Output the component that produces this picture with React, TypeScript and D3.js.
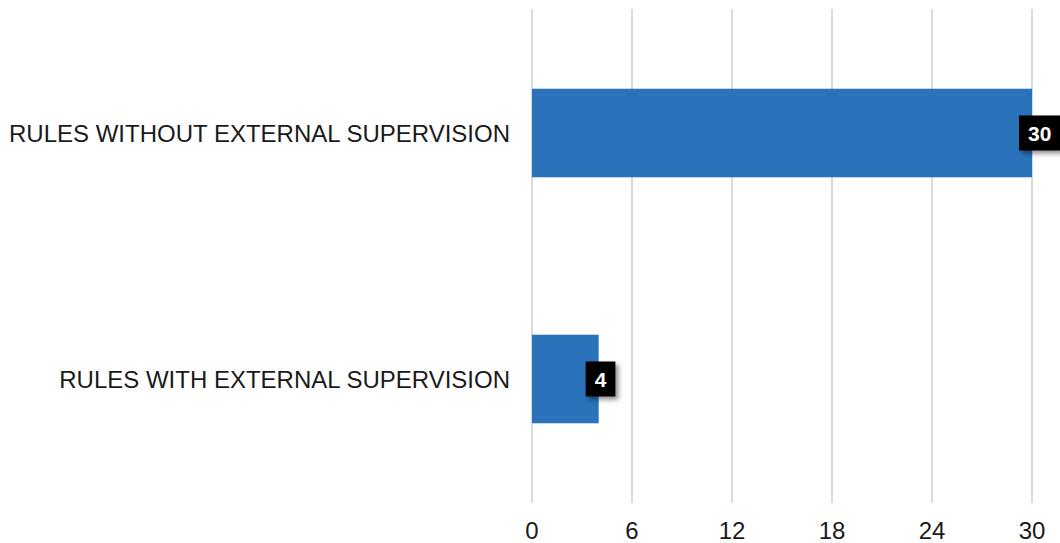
import React from "react";
import * as d3 from "d3";

const categories = ["RULES WITHOUT EXTERNAL SUPERVISION", "RULES WITH EXTERNAL SUPERVISION"];
const values = [30, 4];
const tickValues = [0, 6, 12, 18, 24, 30];

const W = 1060;
const H = 543;
const FONT = "'Liberation Sans', Arial, sans-serif";

export default function App() {
  const x = d3.scaleLinear().domain([0, 30]).range([532, 1032]);
  const y = d3.scaleBand<string>().domain(categories).range([10, 502]).padding(0);
  const barH = y.bandwidth() * 0.36;
  const gridTop = 9;
  const gridBottom = 503;

  return (
    <svg
      width={W}
      height={H}
      style={{ position: "absolute", left: 0, top: 0, background: "#fff" }}
      fontFamily={FONT}
    >
      <defs>
        <filter id="lblShadow" x="-30%" y="-30%" width="180%" height="180%">
          <feDropShadow dx="3" dy="3" stdDeviation="2.5" floodColor="#000" floodOpacity="0.45" />
        </filter>
      </defs>
      <rect x={0} y={0} width={W} height={H} fill="#fff" />
      {/* vertical grid */}
      {tickValues.map((t) => (
        <line
          key={"g" + t}
          x1={x(t)}
          x2={x(t)}
          y1={gridTop}
          y2={gridBottom}
          stroke="#dadada"
          strokeWidth={2}
        />
      ))}
      {/* tick labels */}
      {tickValues.map((t) => (
        <text
          key={"t" + t}
          x={x(t)}
          y={539}
          textAnchor="middle"
          fontSize={24}
          fill="#1a1a1a"
        >
          {t}
        </text>
      ))}
      {/* bars */}
      {categories.map((c, i) => {
        const cy = (y(c) ?? 0) + y.bandwidth() / 2;
        return (
          <g key={c}>
            <rect x={x(0)} y={cy - barH / 2} width={x(values[i]) - x(0)} height={barH} fill="#2a72ba" />
            <text
              x={510}
              y={cy + 8.5}
              textAnchor="end"
              fontSize={24}
              fill="#1a1a1a"
            >
              {c}
            </text>
          </g>
        );
      })}
      {/* value labels */}
      {categories.map((c, i) => {
        const cy = (y(c) ?? 0) + y.bandwidth() / 2;
        const label = String(values[i]);
        const tw = label.length * 11.7;
        const bw = tw + 18;
        const bx = x(values[i]) - 13;
        return (
          <g key={"v" + c}>
            <rect x={bx} y={cy - 17.5} width={bw} height={35} fill="#000" filter="url(#lblShadow)" />
            <text
              x={bx + bw / 2}
              y={cy + 7.5}
              textAnchor="middle"
              fontSize={21}
              fontWeight="bold"
              fill="#fff"
            >
              {label}
            </text>
          </g>
        );
      })}
    </svg>
  );
}
